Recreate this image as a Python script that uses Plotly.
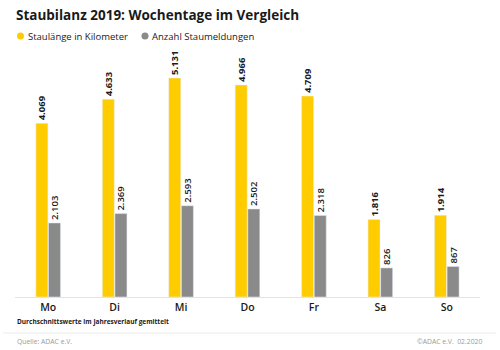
import plotly.graph_objects as go

days = ["Mo", "Di", "Mi", "Do", "Fr", "Sa", "So"]
stau_km = [4069, 4633, 5131, 4966, 4709, 1816, 1914]
stau_meldungen = [2103, 2369, 2593, 2502, 2318, 826, 867]

title = "Staubilanz 2019: Wochentage im Vergleich"
legend_names = ["Staulänge in Kilometer", "Anzahl Staumeldungen"]
footnote = "Durchschnittswerte im Jahresverlauf gemittelt"
source = "Quelle: ADAC e.V."
copyright_txt = "©ADAC e.V.  02.2020"

YELLOW = "#FFCC00"
GRAY = "#8A8A8A"
DARK = "#1a1a1a"
FONT = "Open Sans"

fig = go.Figure()
fig.add_trace(go.Bar(
    x=days, y=stau_km, name=legend_names[0], marker_color=YELLOW,
    offsetgroup="km", yaxis="y",
    texttemplate="%{y:,}", textposition="outside", textangle=-90,
    constraintext="none",
    textfont=dict(family=FONT, size=9.5, color=DARK, weight="bold"),
    cliponaxis=False,
))
fig.add_trace(go.Bar(
    x=days, y=stau_meldungen, name=legend_names[1], marker_color=GRAY,
    offsetgroup="anz", yaxis="y2",
    texttemplate="%{y:,}", textposition="outside", textangle=-90,
    constraintext="none",
    textfont=dict(family=FONT, size=9.5, color=DARK, weight=600),
    cliponaxis=False,
))

fig.update_layout(
    width=500, height=350,
    margin=dict(l=15, r=20, t=58, b=53),
    paper_bgcolor="white", plot_bgcolor="white",
    barmode="group", bargap=0.62, bargroupgap=0.05,
    separators=",.",
    showlegend=False,
    font=dict(family=FONT, color=DARK),
    xaxis=dict(showline=True, linecolor="#e3e3e3", linewidth=1,
               tickfont=dict(family=FONT, size=10.5, color=DARK, weight=600),
               ticks="", showgrid=False),
    yaxis=dict(range=[0, 5600], visible=False, showgrid=False),
    yaxis2=dict(range=[0, 6790], visible=False, showgrid=False,
                overlaying="y", side="right"),
)

def px_x(px):
    return (px - 15) / 465

def px_y(py):
    return (297 - py) / 239

# title
fig.add_annotation(text="<b>" + title + "</b>", xref="paper", yref="paper",
                   x=px_x(14), y=px_y(15), xanchor="left", yanchor="middle",
                   showarrow=False, font=dict(family=FONT, size=13.5, color=DARK))

# legend
for name, col, cx in [(legend_names[0], YELLOW, 20.5), (legend_names[1], GRAY, 145)]:
    fig.add_shape(type="circle", xref="paper", yref="paper",
                  x0=px_x(cx - 3.5), x1=px_x(cx + 3.5), y0=px_y(39.5), y1=px_y(32.5),
                  fillcolor=col, line=dict(width=0))
    fig.add_annotation(text=name, xref="paper", yref="paper",
                       x=px_x(cx + 5), y=px_y(36), xanchor="left", yanchor="middle",
                       showarrow=False, font=dict(family=FONT, size=9.5, color=DARK))

fig.add_annotation(text=footnote, xref="paper", yref="paper",
                   x=px_x(15), y=px_y(321), xanchor="left", yanchor="middle",
                   showarrow=False, font=dict(family=FONT, size=6.5, color=DARK, weight="bold"))
fig.add_shape(type="line", xref="paper", yref="paper",
              x0=px_x(3), x1=px_x(496), y0=px_y(333), y1=px_y(333),
              line=dict(color="#ececec", width=1))
fig.add_annotation(text=source, xref="paper", yref="paper",
                   x=px_x(15), y=px_y(341), xanchor="left", yanchor="middle",
                   showarrow=False, font=dict(family=FONT, size=6.8, color="#9a9a9a"))
fig.add_annotation(text=copyright_txt, xref="paper", yref="paper",
                   x=px_x(484), y=px_y(341), xanchor="right", yanchor="middle",
                   showarrow=False, font=dict(family=FONT, size=6.8, color="#9a9a9a"))

fig.write_html("out.html")
